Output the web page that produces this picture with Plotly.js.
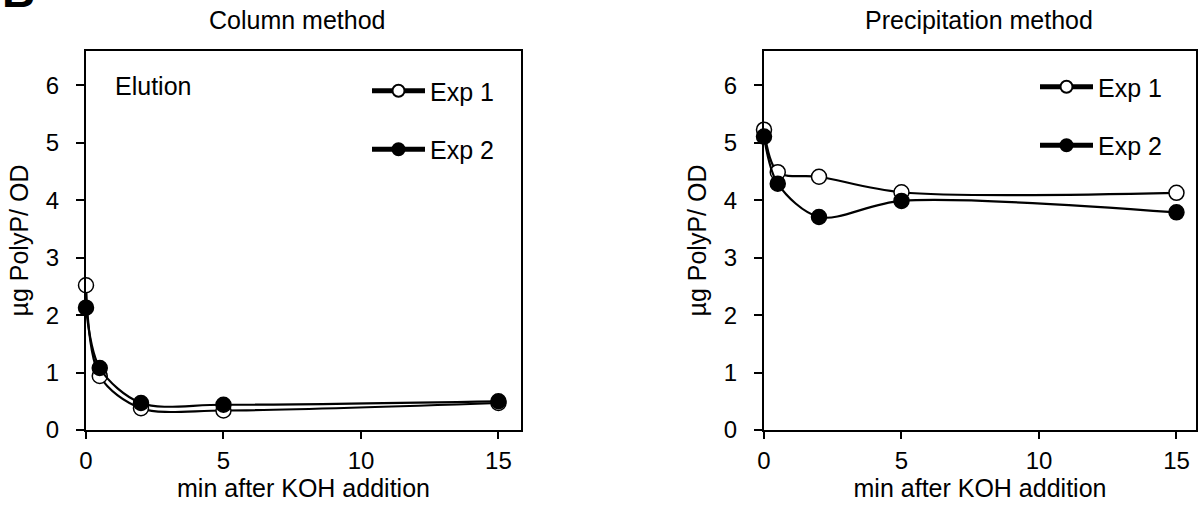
<!DOCTYPE html>
<html>
<head>
<meta charset="utf-8">
<script src="https://cdn.plot.ly/plotly-3.0.1.min.js"></script>
<style>html,body{margin:0;padding:0;background:#fff}#chart{width:1203px;height:510px}</style>
</head>
<body>
<div id="chart"></div>
<script>
// ---- data ----
const minutes = [0, 0.5, 2, 5, 15];
const columnExp1 = [2.52, 0.94, 0.38, 0.34, 0.47];
const columnExp2 = [2.13, 1.08, 0.47, 0.44, 0.50];
const precipExp1 = [5.23, 4.49, 4.41, 4.14, 4.13];
const precipExp2 = [5.11, 4.29, 3.71, 3.99, 3.79];
const seriesNames = ["Exp 1", "Exp 2"];
const panelTitles = ["Column method", "Precipitation method"];
const xTitle = "min after KOH addition";
const yTitle = "µg PolyP/ OD";
const xTicks = [0, 5, 10, 15];
const yTicks = [0, 1, 2, 3, 4, 5, 6];

const W = 1203, H = 510;
const FONT = "Liberation Sans, Arial, sans-serif";
const FS = 25;
const TFS = 24;

function trace(y, name, filled, xa, ya, leg, grp) {
  return {
    x: minutes, y: y, name: name, type: "scatter", mode: "lines+markers",
    xaxis: xa, yaxis: ya, legend: leg, legendgroup: grp,
    cliponaxis: false,
    line: {color: "#000", width: 2.2, shape: "spline", smoothing: 0.9},
    marker: {symbol: "circle", size: 15, color: filled ? "#000" : "#fff",
             line: {color: "#000", width: 1.5}}
  };
}

const data = [
  trace(columnExp1, seriesNames[0], false, "x", "y", "legend", "a1"),
  trace(columnExp2, seriesNames[1], true, "x", "y", "legend", "a2"),
  trace(precipExp1, seriesNames[0], false, "x2", "y2", "legend2", "b1"),
  trace(precipExp2, seriesNames[1], true, "x2", "y2", "legend2", "b2")
];

function xAxis(d0, d1, r1, anchor) {
  return {
    domain: [d0 / W, d1 / W], range: [0, r1], anchor: anchor,
    tickvals: xTicks, ticktext: xTicks.map(String),
    showline: true, linecolor: "#000", linewidth: 2, mirror: true,
    ticks: "outside", ticklen: 7, tickwidth: 2, tickcolor: "#000",
    showgrid: false, zeroline: false, ticklabelstandoff: 1,
    tickfont: {family: FONT, size: TFS, color: "#000"},
    title: {text: xTitle, font: {family: FONT, size: FS, color: "#000"}, standoff: 6}
  };
}
function yAxis(anchor) {
  return {
    domain: [1 - 430 / H, 1 - 51 / H], range: [0, 6.6], anchor: anchor,
    tickvals: yTicks, ticktext: yTicks.map(String),
    showline: true, linecolor: "#000", linewidth: 2, mirror: true,
    ticks: "outside", ticklen: 8, tickwidth: 2, tickcolor: "#000",
    showgrid: false, zeroline: false, ticklabelstandoff: 12,
    tickfont: {family: FONT, size: TFS, color: "#000"},
    title: {text: yTitle, font: {family: FONT, size: FS, color: "#000"}, standoff: 10}
  };
}

function legendAt(xpx, ypx) {
  return {
    x: xpx / W, y: 1 - ypx / H, xanchor: "left", yanchor: "top",
    bgcolor: "rgba(0,0,0,0)", borderwidth: 0,
    traceorder: "grouped", tracegroupgap: 23, itemsizing: "constant", itemwidth: 53,
    font: {family: FONT, size: FS, color: "#000"}
  };
}

const layout = {
  width: W, height: H,
  margin: {l: 0, r: 0, t: 0, b: 0, autoexpand: false},
  paper_bgcolor: "#fff", plot_bgcolor: "#fff",
  font: {family: FONT, size: FS, color: "#000"},
  xaxis: xAxis(86, 521, 15.82, "y"),
  yaxis: yAxis("x"),
  xaxis2: xAxis(764, 1196, 15.71, "y2"),
  yaxis2: yAxis("x2"),
  legend: legendAt(367, 68),
  legend2: legendAt(1035, 64),
  annotations: [
    {text: panelTitles[0], xref: "paper", yref: "paper", x: 297 / W, y: 1 - 20 / H,
     xanchor: "center", yanchor: "middle", showarrow: false, font: {family: FONT, size: FS, color: "#000"}},
    {text: panelTitles[1], xref: "paper", yref: "paper", x: 979 / W, y: 1 - 20 / H,
     xanchor: "center", yanchor: "middle", showarrow: false, font: {family: FONT, size: FS, color: "#000"}},
    {text: "Elution", xref: "paper", yref: "paper", x: 113 / W, y: 1 - 86 / H,
     xanchor: "left", yanchor: "middle", showarrow: false, font: {family: FONT, size: FS, color: "#000"}},
    {text: "<b>B</b>", xref: "paper", yref: "paper", x: 0, y: 1 - 19 / H,
     xanchor: "left", yanchor: "bottom", showarrow: false, font: {family: FONT, size: 46, color: "#000"}}
  ]
};

Plotly.newPlot("chart", data, layout, {displayModeBar: false, responsive: false});
</script>
</body>
</html>
